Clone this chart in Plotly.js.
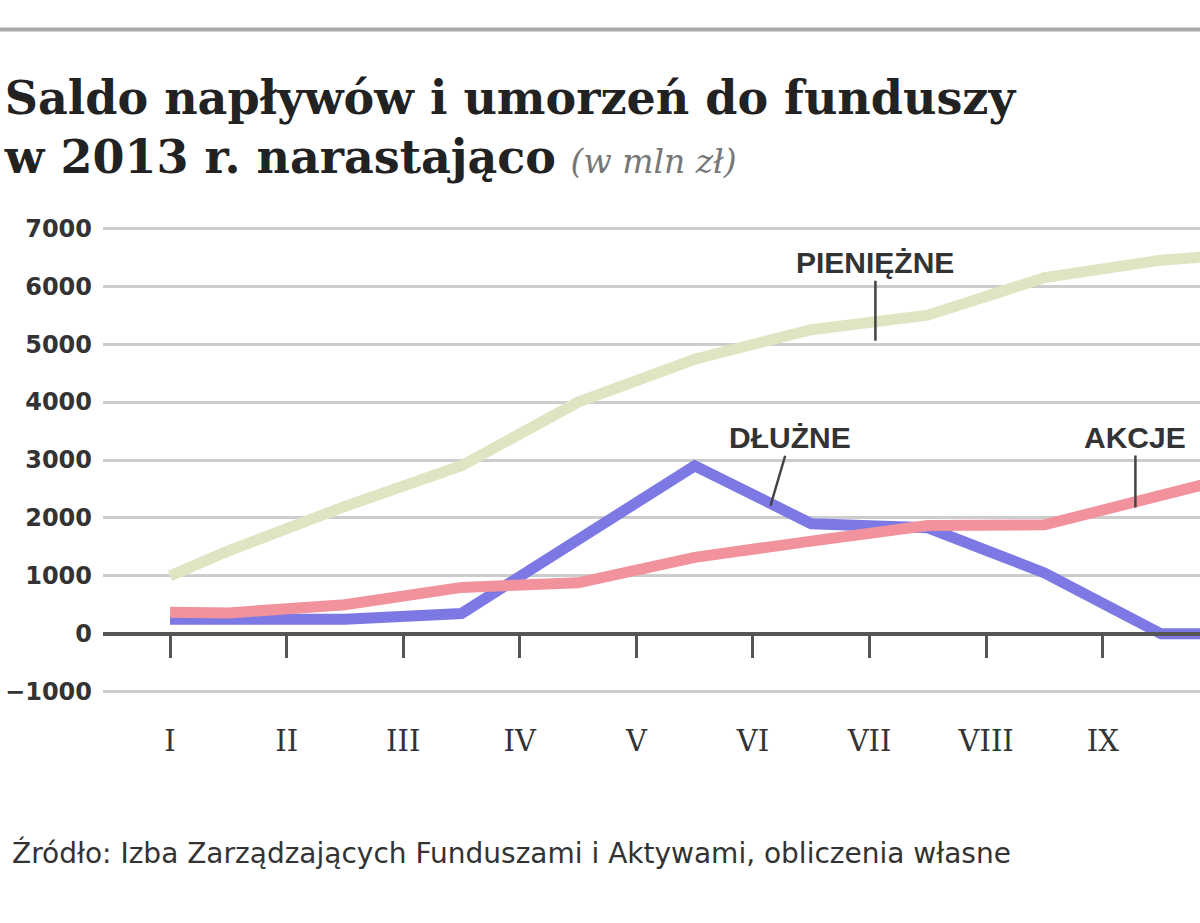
<!DOCTYPE html>
<html>
<head>
<meta charset="utf-8">
<script src="https://cdn.plot.ly/plotly-3.0.1.min.js"></script>
<style>
  html, body { margin: 0; padding: 0; background: #fff; }
  #chart { width: 1200px; height: 923px; }
</style>
</head>
<body>
<div id="chart"></div>
<script>
// Month positions of the data points (1 = I, 2 = II, ...)
const pointMonths = [1, 1.5, 2.5, 3.5, 4.5, 5.5, 6.5, 7.5, 8.5, 9.5, 10.5];

// Cumulative net flows, mln zł
const pieniezne = [1000, 1430, 2200, 2900, 4000, 4740, 5250, 5500, 6150, 6450, 6600];
const akcje = [370, 360, 500, 800, 880, 1320, 1600, 1870, 1880, 2350, 2900];
const dluzne = [250, 240, 250, 350, 1620, 2900, 1900, 1830, 1050, 0, 0];

// x axis
const monthTicks = [1, 2, 3, 4, 5, 6, 7, 8, 9, 10];
const monthLabels = ["I", "II", "III", "IV", "V", "VI", "VII", "VIII", "IX", "X"];

// series labels: [text, month, value it points at]
const seriesLabels = [
  ["PIENIĘŻNE", 7.05, 5060],
  ["DŁUŻNE", 6.15, 2210],
  ["AKCJE", 9.28, 2180],
];

const traces = [
  {
    x: pointMonths,
    y: pieniezne,
    type: "scatter",
    mode: "lines",
    line: { color: "#e1e4c3", width: 11 },
    hoverinfo: "skip",
  },
  {
    x: pointMonths,
    y: dluzne,
    type: "scatter",
    mode: "lines",
    line: { color: "#7c79e4", width: 11 },
    hoverinfo: "skip",
  },
  {
    x: pointMonths,
    y: akcje,
    type: "scatter",
    mode: "lines",
    line: { color: "#f2929d", width: 11 },
    hoverinfo: "skip",
  },
];

// pointer offsets for the labels (pixels)
const labelOffsets = [
  { ax: 0, ay: -78 },
  { ax: 20, ay: -68 },
  { ax: 0, ay: -70 },
];

const annotations = seriesLabels.map((s, i) => ({
  text: "<b>" + s[0] + "</b>",
  x: s[1],
  y: s[2],
  xref: "x",
  yref: "y",
  showarrow: true,
  arrowhead: 0,
  arrowwidth: 2.5,
  arrowcolor: "#444",
  ax: labelOffsets[i].ax,
  ay: labelOffsets[i].ay,
  font: { family: "Liberation Sans Narrow, Liberation Sans, sans-serif", size: 30, color: "#333" },
}));

// source line
annotations.push({
  text: "Źródło: Izba Zarządzających Funduszami i Aktywami, obliczenia własne",
  xref: "paper",
  yref: "paper",
  x: -0.085,
  y: -0.34,
  xanchor: "left",
  yanchor: "middle",
  showarrow: false,
  font: { family: "DejaVu Sans, sans-serif", size: 28, color: "#333" },
});

const layout = {
  width: 1200,
  height: 923,
  paper_bgcolor: "#fff",
  plot_bgcolor: "#fff",
  showlegend: false,
  margin: { l: 103, r: 0, t: 226, b: 229 },
  title: {
    text:
      "<b>Saldo napływów i umorzeń do funduszy<br>w 2013 r. narastająco</b> " +
      "<span style='font-size:33px;color:#777'><i>(w mln zł)</i></span>",
    xref: "container",
    yref: "container",
    x: 0.004,
    xanchor: "left",
    y: 0.877,
    yanchor: "top",
    font: { family: "DejaVu Serif, serif", size: 46, color: "#222" },
  },
  xaxis: {
    range: [0.425, 9.834],
    tickvals: monthTicks,
    ticktext: monthLabels,
    anchor: "free",
    position: 0.1287,
    showline: true,
    linecolor: "#555",
    linewidth: 4,
    ticks: "outside",
    ticklen: 22,
    tickwidth: 3,
    tickcolor: "#555",
    ticklabelstandoff: 58,
    showgrid: false,
    zeroline: false,
    tickfont: { family: "DejaVu Serif, serif", size: 29, color: "#333" },
  },
  yaxis: {
    range: [-1040, 7040],
    tickvals: [-1000, 0, 1000, 2000, 3000, 4000, 5000, 6000, 7000],
    tickformat: "d",
    showgrid: true,
    gridcolor: "#cdcdcd",
    gridwidth: 3,
    zeroline: false,
    showline: false,
    ticks: "",
    ticklabelstandoff: 10,
    tickfont: { family: "DejaVu Sans, sans-serif", size: 24, color: "#333", weight: "bold" },
  },
  shapes: [
    {
      type: "line",
      xref: "paper",
      yref: "paper",
      x0: -0.094,
      x1: 1,
      y0: 1.42,
      y1: 1.42,
      line: { color: "#aaa", width: 4 },
    },
  ],
  annotations: annotations,
};

Plotly.newPlot("chart", traces, layout, { displayModeBar: false, staticPlot: true });
</script>
</body>
</html>
